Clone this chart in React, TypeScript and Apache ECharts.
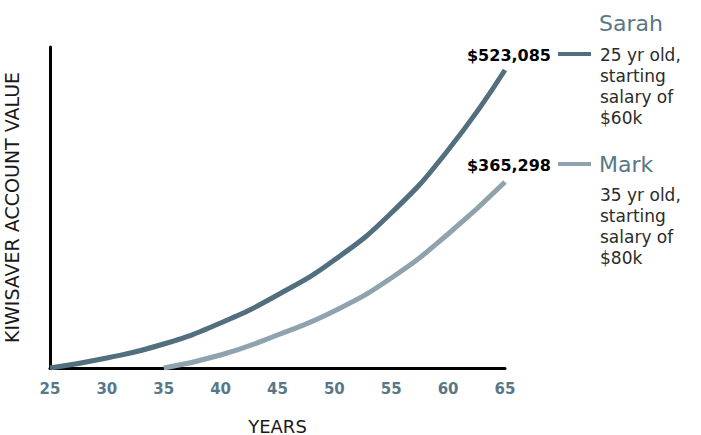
import React, { useEffect, useRef } from "react";
import * as echarts from "echarts";

// Ages on the x axis
const xTicks = [25, 30, 35, 40, 45, 50, 55, 60, 65];
// Sarah: account value at each age
const sarahAges = [25, 30, 35, 40, 45, 50, 55, 60, 65];
const sarahValues = [0, 17550, 42130, 78990, 128140, 189570, 272070, 382660, 523085];
// Mark: account value at each age
const markAges = [35, 40, 45, 50, 55, 60, 65];
const markValues = [0, 22820, 57920, 100050, 157980, 235210, 326490];

const names = ["Sarah", "Mark"];
const finalLabels = ["$523,085", "$365,298"];
const descriptions = [
  ["25 yr old,", "starting", "salary of", "$60k"],
  ["35 yr old,", "starting", "salary of", "$80k"],
];
const colors = ["#516f7f", "#8ea3ae"];
const nameColor = "#587888";

export default function App() {
  const ref = useRef<HTMLDivElement>(null);
  useEffect(() => {
    if (!ref.current) return;
    const chart = echarts.init(ref.current, undefined, { renderer: "svg" });
    const font = "DejaVu Sans";
    const sarahData = sarahAges.map((a, i) => [a, sarahValues[i]]);
    const markData = markAges.map((a, i) => [a, markValues[i]]);

    const rowY = [55, 165];
    const headY = [23, 164];
    const descTop = [44, 184];
    const graphic: any[] = [];
    names.forEach((n, i) => {
      graphic.push({
        type: "text",
        x: 551,
        y: rowY[i],
        style: {
          text: finalLabels[i],
          fill: "#000",
          font: `bold 16px "${font}"`,
          align: "right",
          verticalAlign: "middle",
        },
      });
      graphic.push({
        type: "line",
        shape: { x1: 558, y1: rowY[i] - 1, x2: 591, y2: rowY[i] - 1 },
        style: { stroke: colors[i], lineWidth: 4 },
      });
      graphic.push({
        type: "text",
        x: 599,
        y: headY[i],
        style: {
          text: n,
          fill: nameColor,
          font: `22px "${font}"`,
          align: "left",
          verticalAlign: "middle",
        },
      });
      graphic.push({
        type: "text",
        x: 600,
        y: descTop[i],
        style: {
          text: descriptions[i].join("\n"),
          fill: "#2b2b2b",
          font: `17px "${font}"`,
          lineHeight: 21,
          align: "left",
          verticalAlign: "top",
        },
      });
    });

    chart.setOption({
      animation: false,
      backgroundColor: "#ffffff",
      grid: { left: 50, top: 47, right: 196, bottom: 67, outerBoundsMode: "none" },
      xAxis: {
        type: "value",
        min: xTicks[0],
        max: xTicks[xTicks.length - 1],
        interval: 5,
        name: "YEARS",
        nameLocation: "middle",
        nameGap: 49,
        nameTextStyle: { fontFamily: font, fontSize: 18, color: "#1a1a1a", verticalAlign: "top" },
        axisLine: { show: true, onZero: false, lineStyle: { color: "#000", width: 3 } },
        axisTick: { show: false },
        splitLine: { show: false },
        axisLabel: {
          fontFamily: font,
          fontWeight: "bold",
          fontSize: 15,
          color: "#587888",
          margin: 13,
        },
      },
      yAxis: {
        type: "value",
        min: 0,
        max: 563500,
        name: "KIWISAVER ACCOUNT VALUE",
        nameLocation: "middle",
        nameRotate: 90,
        nameGap: 29,
        nameTextStyle: { fontFamily: font, fontSize: 19, color: "#1a1a1a" },
        axisLine: { show: true, lineStyle: { color: "#000", width: 3 } },
        axisTick: { show: false },
        axisLabel: { show: false },
        splitLine: { show: false },
      },
      series: [
        {
          name: names[0],
          type: "line",
          data: sarahData,
          smooth: 0.5,
          showSymbol: false,
          symbol: "none",
          lineStyle: { color: colors[0], width: 5, cap: "butt" },
          z: 3,
        },
        {
          name: names[1],
          type: "line",
          data: markData,
          smooth: 0.5,
          showSymbol: false,
          symbol: "none",
          lineStyle: { color: colors[1], width: 5, cap: "butt" },
          z: 2,
        },
      ],
      graphic,
    });
    return () => chart.dispose();
  }, []);
  return (
    <div
      ref={ref}
      style={{ position: "fixed", left: 0, top: 0, width: 701, height: 435 }}
    />
  );
}
